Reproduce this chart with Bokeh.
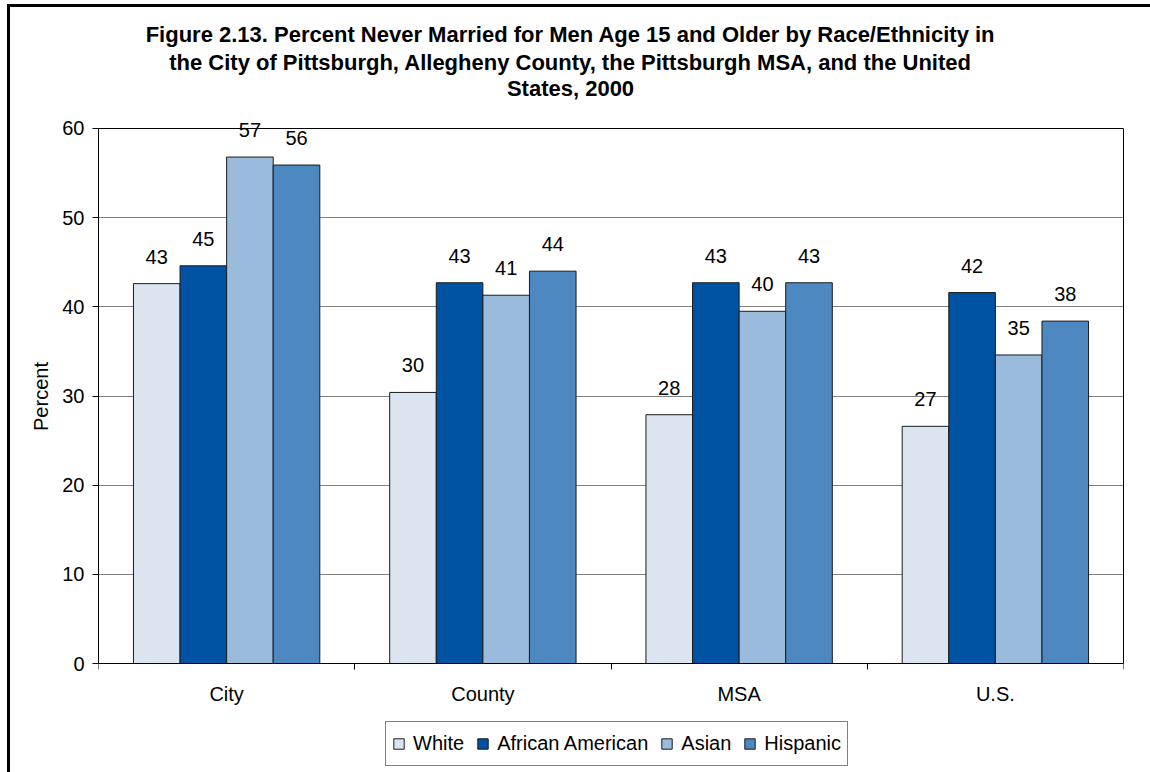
from bokeh.plotting import figure
from bokeh.models import (ColumnDataSource, Range1d, FixedTicker, Legend, LegendItem, LabelSet,
                          LinearAxis, Grid, Label)
from bokeh.transform import dodge
from bokeh.core.properties import value
from bokeh.embed import file_html
from bokeh.resources import INLINE

categories = ["City", "County", "MSA", "U.S."]
series_names = ["White", "African American", "Asian", "Hispanic"]
white = [42.6, 30.4, 27.9, 26.6]
african_american = [44.6, 42.7, 42.7, 41.6]
asian = [56.8, 41.3, 39.5, 34.6]
hispanic = [55.9, 44.0, 42.7, 38.4]
colors = ["#DBE5F1", "#0052A3", "#9BBBDC", "#4E88C0"]
y_ticks = [0, 10, 20, 30, 40, 50, 60]
title_lines = ["Figure 2.13. Percent Never Married for Men Age 15 and Older by Race/Ethnicity in",
               "the City of Pittsburgh, Allegheny County, the Pittsburgh MSA, and the United",
               "States, 2000"]

FONT = "Liberation Sans"
series = [white, african_american, asian, hispanic]
y_lo, y_hi = y_ticks[0], y_ticks[-1]

centers = [i + 0.5 for i in range(len(categories))]
bounds = [float(i) for i in range(len(categories) + 1)]
data = {"x": centers}
for name, vals in zip(series_names, series):
    data[name] = vals
    data[name + "_lbl"] = [f"{v:.0f}" for v in vals]
src = ColumnDataSource(data)

p = figure(width=1150, height=772, x_range=Range1d(0, len(categories)),
           y_range=Range1d(-12.224, 72.112), x_axis_type=None,
           output_backend="svg", toolbar_location=None,
           min_border_left=98, min_border_right=27, min_border_top=20, min_border_bottom=0)
p.title = None
p.border_fill_alpha = 0
p.styles = {
    "background-color": "white",
    "background-image": "linear-gradient(#000,#000), linear-gradient(#000,#000)",
    "background-position": "7px 4px, 7px 4px",
    "background-size": "3px 100%, 100% 3px",
    "background-repeat": "no-repeat",
}
p.outline_line_color = None
p.background_fill_color = "white"

# title lines (screen units from the plot-area's lower left)
for txt, yy in zip(title_lines, [738, 710, 684]):
    p.add_layout(Label(x=472, y=yy, x_units="screen", y_units="screen", text=txt,
                       text_align="center", text_baseline="alphabetic",
                       text_font=FONT, text_font_size="22px", text_font_style="bold",
                       text_color="black"))

# y axis
p.yaxis.ticker = FixedTicker(ticks=y_ticks)
p.yaxis.bounds = (y_lo, y_hi)
p.yaxis.minor_tick_line_color = None
p.yaxis.major_tick_out = 6
p.yaxis.major_tick_in = 0
p.yaxis.major_tick_line_color = "black"
p.yaxis.axis_line_color = "black"
p.yaxis.major_label_text_font = FONT
p.yaxis.major_label_text_font_size = "20px"
p.yaxis.major_label_text_color = "black"
p.yaxis.major_label_standoff = 8
p.yaxis.axis_label = "Percent"
p.yaxis.axis_label_text_font = FONT
p.yaxis.axis_label_text_font_size = "20px"
p.yaxis.axis_label_text_font_style = "normal"
p.yaxis.axis_label_text_color = "black"
p.yaxis.axis_label_standoff = 7

p.ygrid.grid_line_color = "#808080"
p.ygrid.grid_line_width = 1
p.ygrid.ticker = FixedTicker(ticks=y_ticks)

# plot-area border: top line at the axis maximum and right edge
p.add_layout(Grid(dimension=1, ticker=FixedTicker(ticks=[y_hi]), grid_line_color="black"))
right_axis = LinearAxis(bounds=(y_lo, y_hi), ticker=FixedTicker(ticks=[]),
                        major_tick_line_color=None, minor_tick_line_color=None,
                        major_label_text_font_size="0px", axis_line_color="black")
p.add_layout(right_axis, "right")

# x axis at zero with boundary ticks
xaxis = LinearAxis(fixed_location=y_lo, ticker=FixedTicker(ticks=centers, minor_ticks=bounds),
                   major_label_overrides={c: n for c, n in zip(centers, categories)},
                   major_tick_out=0, major_tick_in=0, minor_tick_out=6, minor_tick_in=0,
                   minor_tick_line_color="black", axis_line_color="black",
                   major_label_text_font=FONT, major_label_text_font_size="20px",
                   major_label_text_color="black", major_label_standoff=13)
p.add_layout(xaxis, "below")

n = len(series_names)
w = 1.0 / (n + 1.5)
items = []
for k, (name, col) in enumerate(zip(series_names, colors)):
    off = (k - (n - 1) / 2) * w
    r = p.vbar(x=dodge("x", off, range=p.x_range), top=name, bottom=y_lo, width=w, source=src,
               fill_color=col, line_color="#1a1a1a", line_width=1)
    items.append(LegendItem(label=name, renderers=[r]))
    lbl = LabelSet(x=dodge("x", off, range=p.x_range), y=name, text=name + "_lbl", source=src,
                   text_align="center", text_baseline="alphabetic", y_offset=20,
                   text_font=value(FONT), text_font_size="20px", text_color="black")
    p.add_layout(lbl)

legend = Legend(items=items, orientation="horizontal", location=(287, 6),
                border_line_color="black", border_line_width=1, background_fill_color="white",
                background_fill_alpha=1.0, padding=6, spacing=12, label_standoff=8,
                glyph_width=13, glyph_height=13, label_height=31, margin=0,
                label_text_font=FONT, label_text_font_size="20px", label_text_color="black")
p.add_layout(legend, "center")

open("out.html", "w").write(file_html(p, INLINE))
